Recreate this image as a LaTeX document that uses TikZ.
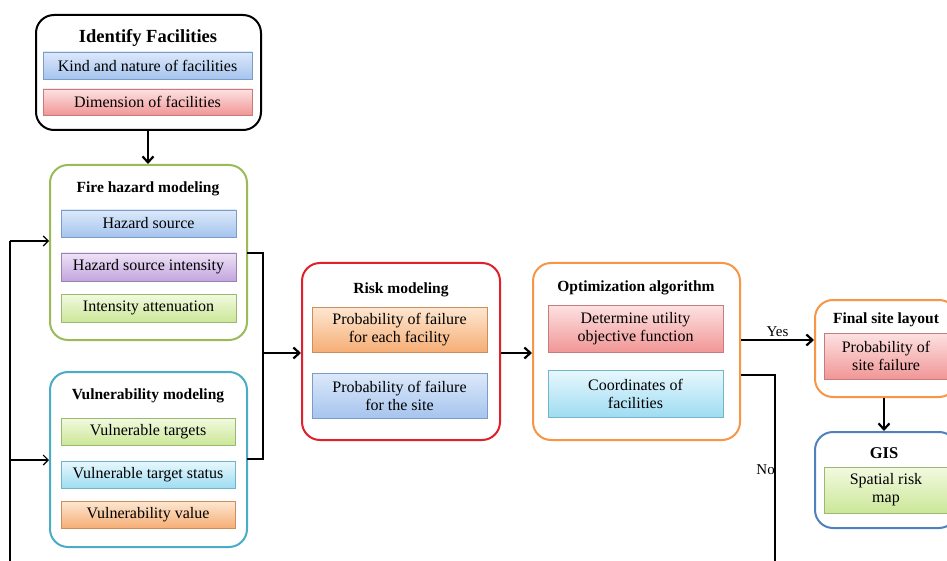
\documentclass[tikz,border=0pt]{standalone}
\usepackage{fontspec}
\setmainfont{Liberation Serif}
\usetikzlibrary{arrows.meta,shadows,calc}
\definecolor{blueT}{HTML}{DCE9FA}\definecolor{blueB}{HTML}{A6C4EE}\definecolor{blueD}{HTML}{7B9CC9}
\definecolor{pinkT}{HTML}{FDE2E2}\definecolor{pinkB}{HTML}{F19696}\definecolor{pinkD}{HTML}{C67C7C}
\definecolor{purpT}{HTML}{EEE3F6}\definecolor{purpB}{HTML}{C2A5DE}\definecolor{purpD}{HTML}{9A82B5}
\definecolor{greenT}{HTML}{F2FAE0}\definecolor{greenB}{HTML}{CBE798}\definecolor{greenD}{HTML}{9DB873}
\definecolor{cyanT}{HTML}{E8F8FD}\definecolor{cyanB}{HTML}{9FDCF2}\definecolor{cyanD}{HTML}{74B4CA}
\definecolor{oranT}{HTML}{FDE7D1}\definecolor{oranB}{HTML}{F6AE76}\definecolor{oranD}{HTML}{CC8E5C}
\definecolor{frameGreen}{HTML}{9BBB59}\definecolor{frameCyan}{HTML}{4BACC6}
\definecolor{frameRed}{HTML}{E0202A}\definecolor{frameOrange}{HTML}{F79646}
\definecolor{frameBlue}{HTML}{4F81BD}
\tikzset{
  outerbox/.style={draw=#1, line width=2pt, rounded corners=18pt, fill=white},
  innerbox/.style n args={3}{draw=#3, line width=0.8pt, top color=#1, bottom color=#2,
     drop shadow={opacity=0.25, shadow xshift=1.2pt, shadow yshift=-1.2pt},
     align=center, font=\fontsize{16}{18}\selectfont, inner sep=0pt},
  bluebox/.style={innerbox={blueT}{blueB}{blueD}},
  pinkbox/.style={innerbox={pinkT}{pinkB}{pinkD}},
  purpbox/.style={innerbox={purpT}{purpB}{purpD}},
  greenbox/.style={innerbox={greenT}{greenB}{greenD}},
  cyanbox/.style={innerbox={cyanT}{cyanB}{cyanD}},
  oranbox/.style={innerbox={oranT}{oranB}{oranD}},
  titletext/.style={font=\fontsize{15.5}{18}\bfseries\selectfont, inner sep=0pt},
  mainarrow/.style={line width=2.2pt, -{Straight Barb[length=6pt,width=11pt,line width=2.2pt]}},
  thinline/.style={line width=1.3pt},
  feedarrow/.style={line width=1.1pt, -{Straight Barb[length=5pt,width=10pt,line width=1.1pt]}},
  lbl/.style={font=\fontsize{15}{18}\selectfont, inner sep=1pt}
}
\begin{document}
\begin{tikzpicture}[x=1pt,y=-1pt]
\clip (0,0) rectangle (947,561);
\fill[white] (0,0) rectangle (947,561);

% Identify Facilities
\node[outerbox=black, minimum width=225pt, minimum height=115pt] (idf) at (148.5,72.5) {};
\node[titletext, font=\fontsize{18.5}{20}\bfseries\selectfont] (idft) at (148,38) {Identify Facilities};
\node[bluebox, minimum width=209pt, minimum height=27pt] (idf1) at (147.5,65.5) {Kind and nature of facilities};
\node[pinkbox, minimum width=209pt, minimum height=26pt] (idf2) at (147.5,102) {Dimension of facilities};

% Fire hazard modeling
\node[outerbox=frameGreen, minimum width=197pt, minimum height=175pt] (fire) at (148.5,252.5) {};
\node[titletext] (firet) at (148,189) {Fire hazard modeling};
\node[bluebox, minimum width=175pt, minimum height=27pt] (fire1) at (148.5,223.5) {Hazard source};
\node[purpbox, minimum width=175pt, minimum height=28pt] (fire2) at (148.5,267) {Hazard source intensity};
\node[greenbox, minimum width=175pt, minimum height=28pt] (fire3) at (148.5,308) {Intensity attenuation};

% Vulnerability modeling
\node[outerbox=frameCyan, minimum width=197pt, minimum height=175pt] (vul) at (148.5,459.5) {};
\node[titletext] (vult) at (148,396) {Vulnerability modeling};
\node[greenbox, minimum width=174pt, minimum height=27pt] (vul1) at (148,431.5) {Vulnerable targets};
\node[cyanbox, minimum width=174pt, minimum height=27pt] (vul2) at (148,474.5) {Vulnerable target status};
\node[oranbox, minimum width=174pt, minimum height=27pt] (vul3) at (148,514.5) {Vulnerability value};

% Risk modeling
\node[outerbox=frameRed, minimum width=198pt, minimum height=177pt] (risk) at (401,351.5) {};
\node[titletext] (riskt) at (401,290) {Risk modeling};
\node[oranbox, minimum width=175pt, minimum height=45pt] (risk1) at (399.5,329.5) {Probability of failure\\for each facility};
\node[bluebox, minimum width=175pt, minimum height=45pt] (risk2) at (399.5,395.5) {Probability of failure\\for the site};

% Optimization algorithm
\node[outerbox=frameOrange, minimum width=207pt, minimum height=177pt] (opt) at (636.5,351.5) {};
\node[titletext] (optt) at (636,288) {Optimization algorithm};
\node[pinkbox, minimum width=175pt, minimum height=47pt] (opt1) at (635.5,328.5) {Determine utility\\objective function};
\node[cyanbox, minimum width=175pt, minimum height=47pt] (opt2) at (635.5,393.5) {Coordinates of\\facilities};

% Final site layout
\node[outerbox=frameOrange, minimum width=142pt, minimum height=97pt] (fin) at (886,348.5) {};
\node[titletext] (fint) at (886,320) {Final site layout};
\node[pinkbox, minimum width=124pt, minimum height=46pt] (fin1) at (886,356) {Probability of\\site failure};

% GIS
\node[outerbox=frameBlue, minimum width=142pt, minimum height=96pt] (gis) at (886,480) {};
\node[titletext, font=\fontsize{16.5}{18}\bfseries\selectfont] (gist) at (884,453) {GIS};
\node[greenbox, minimum width=124pt, minimum height=46pt] (gis1) at (886,490) {Spatial risk\\map};

% connectors
\draw[mainarrow] (idf.south -| 148,0) -- (fire.north -| 148,0);

\coordinate (bx) at (263,353);
\draw[thinline] (247,253) -| (bx |- 0,459) -- (247,459);
\draw[mainarrow] (bx) -- (risk.west |- bx);
\draw[mainarrow] (risk.east |- bx) -- (opt.west |- bx);

\coordinate (yesy) at (0,340);
\draw[mainarrow] (opt.east |- yesy) -- node[lbl, above, yshift=1pt] {Yes} (fin.west |- yesy);
\draw[mainarrow] (fin.south -| 884,0) -- (gis.north -| 884,0);

\coordinate (nox) at (775,375);
\draw[thinline] (opt.east |- nox) -- (nox) -- (nox |- 0,570);
\node[lbl, anchor=east] (nol) at (776,470) {No};

\coordinate (fbx) at (10,570);
\draw[thinline] (fbx) -- (fbx |- 0,241);
\draw[feedarrow] (fbx |- 0,241) -- (fire.west |- 0,241);
\draw[feedarrow] (fbx |- 0,460) -- (vul.west |- 0,460);
\end{tikzpicture}
\end{document}
